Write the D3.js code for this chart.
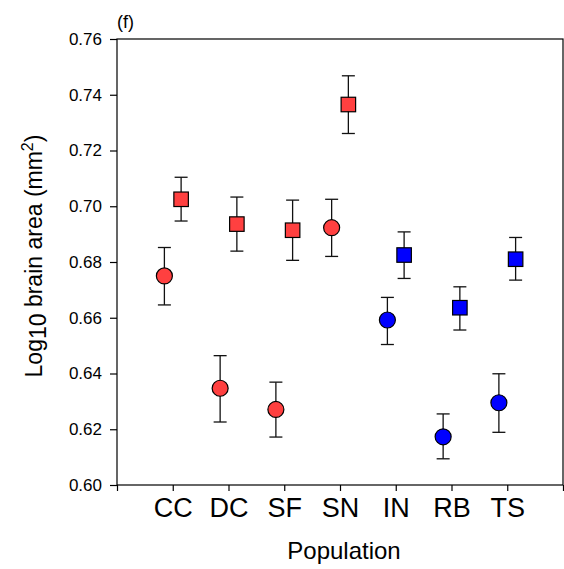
<!DOCTYPE html>
<html lang="en">
<head>
<meta charset="utf-8">
<title>Log10 brain area by population</title>
<script src="https://d3js.org/d3.v7.min.js"></script>
<style>
  body { margin: 0; background: #fff; }
  text { font-family: Arial, "Liberation Sans", sans-serif; fill: #000; }
  .frame { fill: none; stroke: #000; stroke-width: 1.2px; }
  .err { stroke: #111; stroke-width: 1.3px; fill: none; }
  .mark { stroke: #000; stroke-width: 1.2px; }
</style>
</head>
<body>
<svg width="564" height="569"></svg>
<script>
// data
var populations = ["CC", "DC", "SF", "SN", "IN", "RB", "TS"];
var group = [0, 0, 0, 0, 1, 1, 1];   // 0 = red populations, 1 = blue

var circleMean = [0.6750, 0.6347, 0.6271, 0.6923, 0.6592, 0.6173, 0.6295];
var circleLo   = [0.6646, 0.6226, 0.6172, 0.6820, 0.6504, 0.6094, 0.6189];
var circleHi   = [0.6852, 0.6464, 0.6369, 0.7025, 0.6673, 0.6255, 0.6399];

var squareMean = [0.7025, 0.6936, 0.6914, 0.7365, 0.6825, 0.6636, 0.6810];
var squareLo   = [0.6947, 0.6839, 0.6806, 0.7261, 0.6741, 0.6556, 0.6735];
var squareHi   = [0.7104, 0.7033, 0.7022, 0.7468, 0.6908, 0.6711, 0.6888];

var yTicks = [0.60, 0.62, 0.64, 0.66, 0.68, 0.70, 0.72, 0.74, 0.76];

var svg = d3.select("svg");
var pL = 117, pR = 563, pT = 39, pB = 485;

var x = d3.scaleLinear().domain([0, 8]).range([pL, pR]);
var y = d3.scaleLinear().domain([0.60, 0.76]).range([pB, pT]);
var color = d3.scaleOrdinal().domain([0, 1]).range(["#ff4040", "#0000ff"]);

var shift = 0.15;   // circles left of the tick, squares right
var cap = 6.5;

// frame
svg.append("rect").attr("class", "frame")
  .attr("x", pL).attr("y", pT)
  .attr("width", pR - pL).attr("height", pB - pT);

// y axis
var yAxis = svg.append("g")
  .attr("transform", "translate(" + pL + ",0)")
  .call(d3.axisLeft(y).tickValues(yTicks).tickFormat(d3.format(".2f")).tickSize(7).tickPadding(8));
yAxis.select(".domain").remove();
yAxis.selectAll("line").attr("stroke", "#000").attr("stroke-width", 1.2);
yAxis.selectAll("text").style("font-size", "17px");

// x axis, ticks at 0..8, labels at 1..7
var xAxis = svg.append("g")
  .attr("transform", "translate(0," + pB + ")")
  .call(d3.axisBottom(x).tickValues(d3.range(0, 9)).tickSize(6)
    .tickFormat(function(d) { return d >= 1 && d <= 7 ? populations[d - 1] : ""; })
    .tickPadding(7));
xAxis.select(".domain").remove();
xAxis.selectAll("line").attr("stroke", "#000").attr("stroke-width", 1.2);
xAxis.selectAll("text").style("font-size", "27px");

// error bars
function errorBars(lo, hi, off) {
  var g = svg.append("g").attr("class", "err");
  populations.forEach(function(p, i) {
    var cx = x(i + 1 + off);
    g.append("line").attr("x1", cx).attr("x2", cx).attr("y1", y(lo[i])).attr("y2", y(hi[i]));
    g.append("line").attr("x1", cx - cap).attr("x2", cx + cap).attr("y1", y(lo[i])).attr("y2", y(lo[i]));
    g.append("line").attr("x1", cx - cap).attr("x2", cx + cap).attr("y1", y(hi[i])).attr("y2", y(hi[i]));
  });
}
errorBars(circleLo, circleHi, -shift);
errorBars(squareLo, squareHi, shift);

// markers
svg.append("g").selectAll("circle")
  .data(circleMean).enter().append("circle")
  .attr("class", "mark")
  .attr("cx", function(d, i) { return x(i + 1 - shift); })
  .attr("cy", function(d) { return y(d); })
  .attr("r", 8)
  .attr("fill", function(d, i) { return color(group[i]); });

var side = 14.5;
svg.append("g").selectAll("rect")
  .data(squareMean).enter().append("rect")
  .attr("class", "mark")
  .attr("x", function(d, i) { return x(i + 1 + shift) - side / 2; })
  .attr("y", function(d) { return y(d) - side / 2; })
  .attr("width", side).attr("height", side)
  .attr("fill", function(d, i) { return color(group[i]); });

// labels
svg.append("text").attr("x", 117).attr("y", 28).style("font-size", "18px").text("(f)");

svg.append("text")
  .attr("x", 344).attr("y", 559)
  .attr("text-anchor", "middle").style("font-size", "24px")
  .text("Population");

var yl = svg.append("text")
  .attr("transform", "translate(42,256) rotate(-90)")
  .attr("text-anchor", "middle").style("font-size", "23px");
yl.append("tspan").text("Log");
yl.append("tspan").attr("dy", 4).text("10");
yl.append("tspan").attr("dy", -4).text(" brain area (mm");
yl.append("tspan").attr("dy", -9).style("font-size", "16px").text("2");
yl.append("tspan").attr("dy", 9).text(")");
</script>
</body>
</html>
